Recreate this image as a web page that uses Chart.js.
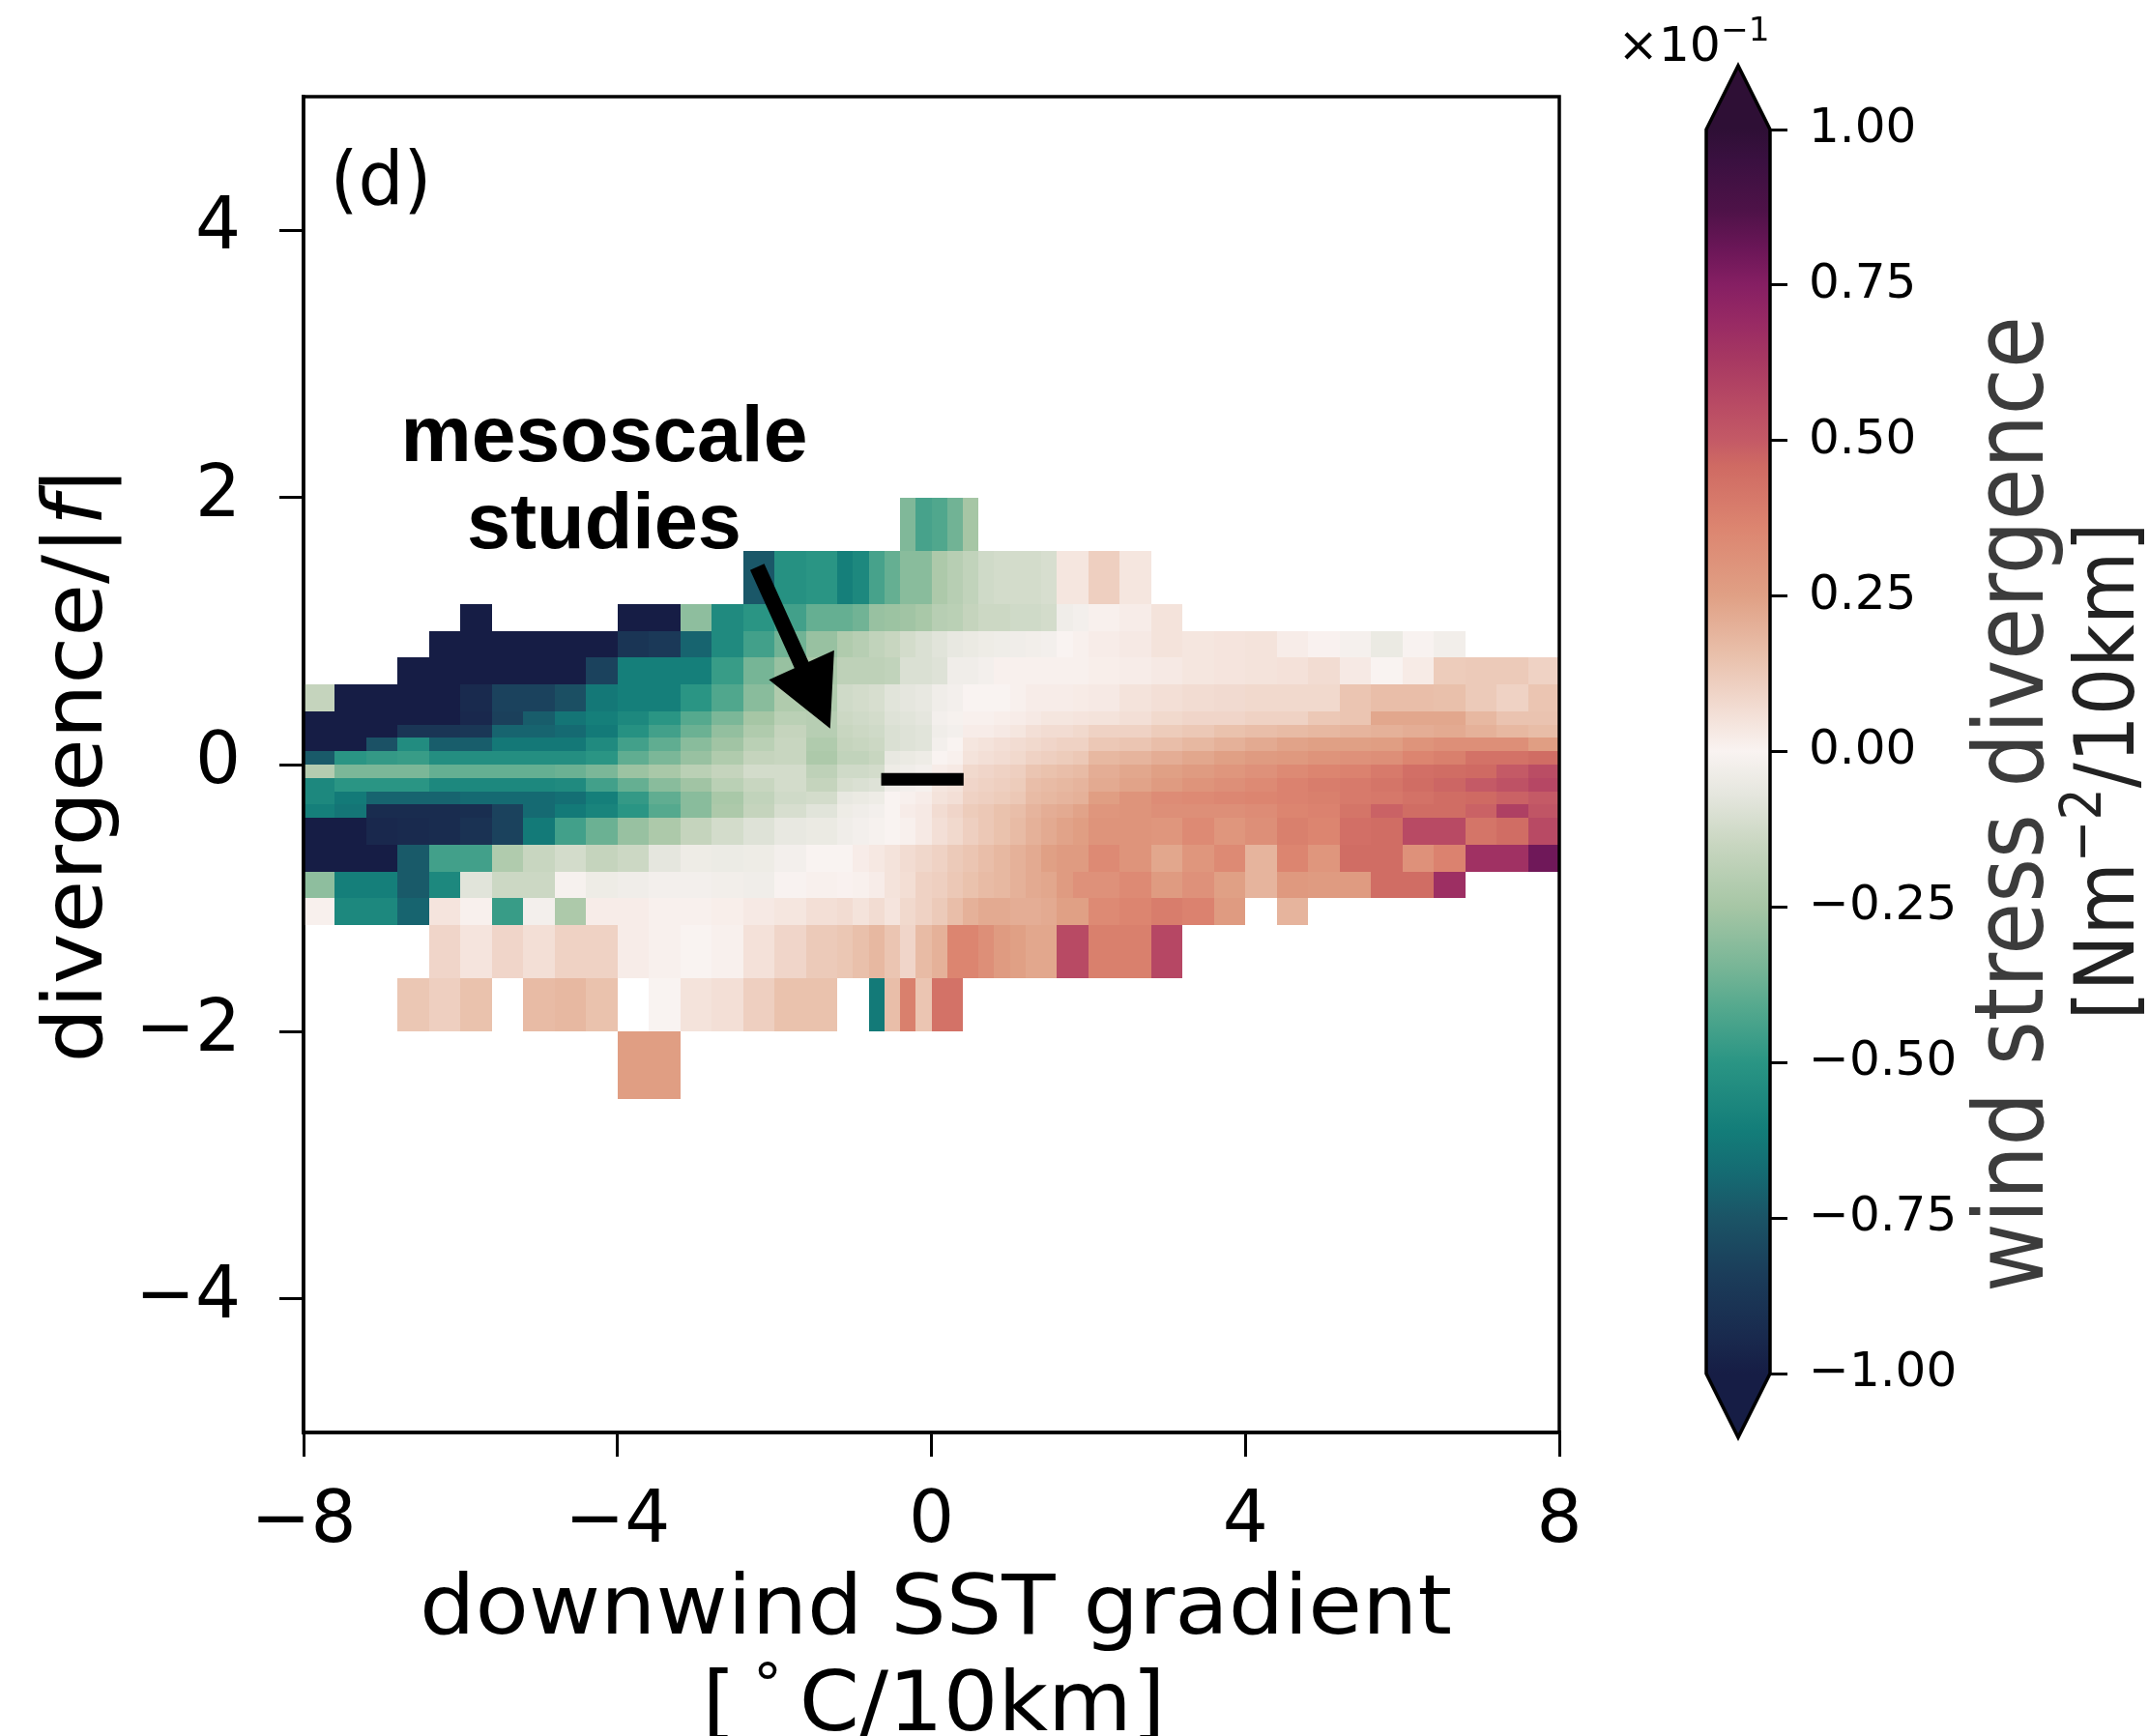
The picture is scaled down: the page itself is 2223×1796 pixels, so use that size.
<!DOCTYPE html>
<html>
<head>
<meta charset="utf-8">
<script src="https://cdn.jsdelivr.net/npm/chart.js@4.4.1/dist/chart.umd.min.js"></script>
<style>
  html, body { margin: 0; padding: 0; background: #fff; }
  #wrap { position: relative; width: 2223px; height: 1796px; }
  #wrap canvas { position: absolute; left: 0; top: 0; }
</style>
</head>
<body>
<div id="wrap">
  <canvas id="heat" width="2223" height="1796"></canvas>
  <canvas id="cbar" width="2223" height="1796"></canvas>
</div>
<script>
const _ = null;

// bin edges (downwind SST gradient, divergence/|f|)
const xEdges = [-8.0, -7.6, -7.2, -6.8, -6.4, -6.0, -5.6, -5.2, -4.8, -4.4, -4.0, -3.6, -3.2, -2.8, -2.4, -2.0, -1.6, -1.2,
  -1.0, -0.8, -0.6, -0.4, -0.2, 0.0, 0.2, 0.4, 0.6, 0.8, 1.0, 1.2, 1.4, 1.6, 1.8, 2.0,
  2.4, 2.8, 3.2, 3.6, 4.0, 4.4, 4.8, 5.2, 5.6, 6.0, 6.4, 6.8, 7.2, 7.6, 8.0];
const yEdges = [-2.5, -2.0, -1.6, -1.2, -1.0, -0.8, -0.6, -0.4, -0.3, -0.2, -0.1, 0.0, 0.1, 0.2, 0.3, 0.4, 0.6, 0.8, 1.0, 1.2, 1.6, 2.0];

// wind stress divergence (x10^-1), one array per row, bottom row first
const zRow00 = [_,_,_,_,_,_,_,_, _,_,0.26,0.26,_,_,_,_, _,_,_,_,_,_,_,_, _,_,_,_,_,_,_,_, _,_,_,_,_,_,_,_, _,_,_,_,_,_,_,_];
const zRow01 = [_,_,_,0.135,0.11,0.15,_,0.17, 0.18,0.15,_,0.0,0.05,0.06,0.11,0.15, 0.15,_,_,-0.62,0.16,0.38,0.14,0.43, 0.43,_,_,_,_,_,_,_, _,_,_,_,_,_,_,_, _,_,_,_,_,_,_,_];
const zRow02 = [_,_,_,_,0.09,0.045,0.09,0.06, 0.1,0.1,0.02,0.01,0.0,0.01,0.055,0.09, 0.125,0.135,0.155,0.18,0.14,0.09,0.17,0.2, 0.36,0.36,0.32,0.27,0.25,0.23,0.23,0.56, 0.56,0.38,0.38,0.57,_,_,_,_, _,_,_,_,_,_,_,_];
const zRow03 = [0.01,-0.56,-0.56,-0.7,0.045,0.01,-0.47,-0.02, -0.23,0.02,0.02,0.01,0.01,0.015,0.03,0.04, 0.06,0.07,0.05,0.07,0.045,0.08,0.1,0.125, 0.16,0.2,0.22,0.22,0.21,0.21,0.22,0.25, 0.25,0.34,0.36,0.39,0.37,0.27,_,0.19, _,_,_,_,_,_,_,_];
const zRow04 = [-0.3,-0.6,-0.6,-0.73,-0.56,-0.08,-0.14,-0.14, -0.01,-0.04,-0.03,-0.02,-0.02,-0.025,-0.03,-0.005, 0.01,0.005,0.01,0.02,0.05,0.065,0.1,0.11, 0.13,0.15,0.17,0.18,0.2,0.22,0.23,0.27, 0.31,0.31,0.34,0.27,0.31,0.25,0.19,0.28, 0.27,0.27,0.45,0.45,0.67,_,_,_];
const zRow05 = [-1,-1,-1,-0.73,-0.45,-0.45,-0.22,-0.15, -0.12,-0.16,-0.14,-0.07,-0.04,-0.045,-0.04,-0.02, 0.0,0.0,0.02,0.035,0.05,0.07,0.085,0.1, 0.125,0.14,0.16,0.18,0.2,0.22,0.25,0.27, 0.27,0.34,0.3,0.23,0.29,0.34,0.19,0.36, 0.29,0.45,0.45,0.31,0.37,0.66,0.66,0.8];
const zRow06 = [-1,-1,-0.95,-0.94,-0.93,-0.9,-0.82,-0.62, -0.45,-0.37,-0.28,-0.23,-0.16,-0.12,-0.09,-0.06, -0.05,-0.03,-0.02,-0.01,0.0,0.01,0.03,0.06, 0.08,0.11,0.13,0.15,0.17,0.2,0.22,0.24, 0.26,0.3,0.3,0.29,0.34,0.29,0.32,0.38, 0.36,0.44,0.45,0.56,0.56,0.42,0.45,0.56];
const zRow07 = [-0.6,-0.64,-0.93,-0.93,-0.93,-0.92,-0.82,-0.68, -0.62,-0.58,-0.5,-0.41,-0.31,-0.23,-0.16,-0.11, -0.08,-0.04,-0.03,-0.02,0.0,0.02,0.03,0.07, 0.09,0.12,0.13,0.15,0.16,0.19,0.21,0.22, 0.24,0.29,0.3,0.32,0.32,0.32,0.33,0.36, 0.37,0.42,0.48,0.45,0.45,0.48,0.6,0.52];
const zRow08 = [-0.56,-0.62,-0.7,-0.7,-0.7,-0.68,-0.68,-0.68, -0.66,-0.6,-0.48,-0.39,-0.31,-0.24,-0.17,-0.13, -0.12,-0.06,-0.05,-0.04,0.0,0.01,0.02,0.05, 0.06,0.1,0.11,0.12,0.13,0.17,0.18,0.19, 0.2,0.26,0.3,0.33,0.34,0.35,0.36,0.37, 0.38,0.4,0.41,0.43,0.45,0.46,0.48,0.5];
const zRow09 = [-0.56,-0.5,-0.5,-0.5,-0.56,-0.56,-0.56,-0.56, -0.55,-0.45,-0.38,-0.31,-0.26,-0.19,-0.15,-0.12, -0.16,-0.11,-0.1,-0.09,-0.03,-0.02,-0.01,0.04, 0.05,0.09,0.1,0.11,0.12,0.16,0.17,0.18, 0.19,0.22,0.24,0.27,0.3,0.32,0.34,0.37, 0.39,0.4,0.42,0.45,0.47,0.5,0.53,0.57];
const zRow10 = [-0.21,-0.34,-0.34,-0.34,-0.38,-0.38,-0.38,-0.38, -0.37,-0.34,-0.27,-0.24,-0.19,-0.16,-0.12,-0.12, -0.18,-0.13,-0.13,-0.12,-0.04,-0.03,-0.02,0.02, 0.03,0.08,0.09,0.1,0.11,0.14,0.15,0.16, 0.17,0.21,0.23,0.25,0.27,0.29,0.31,0.34, 0.36,0.37,0.4,0.44,0.45,0.46,0.5,0.55];
const zRow11 = [-0.73,-0.5,-0.48,-0.47,-0.53,-0.53,-0.53,-0.53, -0.53,-0.5,-0.39,-0.34,-0.28,-0.22,-0.16,-0.15, -0.23,-0.17,-0.17,-0.15,-0.06,-0.05,-0.04,0.0, 0.01,0.05,0.06,0.07,0.08,0.1,0.11,0.12, 0.13,0.18,0.19,0.21,0.23,0.25,0.27,0.28, 0.3,0.31,0.32,0.36,0.38,0.43,0.43,0.45];
const zRow12 = [-1,-1,-0.76,-0.54,-0.72,-0.72,-0.63,-0.63, -0.63,-0.55,-0.45,-0.39,-0.31,-0.26,-0.19,-0.15, -0.22,-0.16,-0.15,-0.14,-0.1,-0.09,-0.08,-0.02, 0.0,0.04,0.05,0.06,0.07,0.08,0.09,0.1, 0.1,0.13,0.14,0.16,0.18,0.2,0.22,0.24, 0.25,0.25,0.26,0.3,0.32,0.32,0.32,0.26];
const zRow13 = [-1,-1,-1,-0.88,-0.88,-0.87,-0.7,-0.7, -0.68,-0.62,-0.52,-0.45,-0.37,-0.29,-0.22,-0.16, -0.2,-0.15,-0.14,-0.13,-0.1,-0.09,-0.08,-0.03, -0.02,0.02,0.02,0.03,0.04,0.06,0.07,0.07, 0.08,0.1,0.1,0.12,0.13,0.15,0.16,0.17, 0.18,0.19,0.2,0.21,0.22,0.2,0.18,0.165];
const zRow14 = [-1,-1,-1,-1,-1,-0.95,-0.83,-0.72, -0.64,-0.6,-0.56,-0.5,-0.41,-0.34,-0.25,-0.19, -0.2,-0.14,-0.13,-0.12,-0.09,-0.08,-0.07,-0.02, -0.01,0.01,0.01,0.015,0.02,0.03,0.04,0.04, 0.045,0.05,0.06,0.08,0.09,0.09,0.1,0.1, 0.13,0.14,0.23,0.23,0.23,0.18,0.145,0.145];
const zRow15 = [-0.16,-1,-1,-1,-1,-0.94,-0.82,-0.82, -0.77,-0.63,-0.6,-0.6,-0.5,-0.42,-0.31,-0.22, -0.22,-0.13,-0.12,-0.11,-0.08,-0.07,-0.06,-0.03, -0.02,0.0,0.0,0.0,0.01,0.02,0.02,0.02, 0.025,0.03,0.05,0.06,0.07,0.075,0.08,0.08, 0.08,0.14,0.16,0.16,0.155,0.125,0.1,0.14];
const zRow16 = [_,_,_,-1,-1,-1,-1,-1, -1,-0.82,-0.6,-0.6,-0.6,-0.47,-0.35,-0.28, -0.24,-0.18,-0.18,-0.18,-0.17,-0.1,-0.1,-0.09, -0.03,-0.03,-0.02,0.01,0.01,0.01,0.01,0.01, 0.01,0.015,0.02,0.03,0.04,0.045,0.05,0.055, 0.07,0.03,0.0,0.025,0.12,0.125,0.125,0.1];
const zRow17 = [_,_,_,_,-1,-1,-1,-1, -1,-1,-0.88,-0.86,-0.7,-0.55,-0.45,-0.36, -0.28,-0.22,-0.2,-0.17,-0.15,-0.12,-0.1,-0.08, -0.06,-0.05,-0.04,-0.035,-0.03,-0.025,-0.02,0.0, 0.01,0.02,0.03,0.05,0.04,0.045,0.05,0.02, 0.005,-0.015,-0.05,-0.005,-0.025,_,_,_];
const zRow18 = [_,_,_,_,_,-1,_,_, _,_,-1,-1,-0.3,-0.55,-0.5,-0.45, -0.38,-0.38,-0.36,-0.28,-0.27,-0.26,-0.24,-0.2, -0.19,-0.16,-0.14,-0.14,-0.13,-0.13,-0.12,-0.03, -0.02,0.01,0.02,0.05,_,_,_,_, _,_,_,_,_,_,_,_];
const zRow19 = [_,_,_,_,_,_,_,_, _,_,_,_,_,_,-0.74,-0.52, -0.5,-0.6,-0.56,-0.44,-0.38,-0.31,-0.31,-0.23, -0.2,-0.17,-0.13,-0.12,-0.12,-0.12,-0.11,0.04, 0.04,0.11,0.04,_,_,_,_,_, _,_,_,_,_,_,_,_];
const zRow20 = [_,_,_,_,_,_,_,_, _,_,_,_,_,_,_,_, _,_,_,_,_,-0.33,-0.44,-0.42, -0.36,-0.25,_,_,_,_,_,_, _,_,_,_,_,_,_,_, _,_,_,_,_,_,_,_];
const zRows = [zRow00, zRow01, zRow02, zRow03, zRow04, zRow05, zRow06, zRow07, zRow08, zRow09, zRow10,
  zRow11, zRow12, zRow13, zRow14, zRow15, zRow16, zRow17, zRow18, zRow19, zRow20];

// axis ticks
const xTicks = [-8, -4, 0, 4, 8];
const yTicks = [-4, -2, 0, 2, 4];
const cbTicks = [-1, -0.75, -0.5, -0.25, 0, 0.25, 0.5, 0.75, 1];

// black bar and the arrow / label of the "mesoscale studies" note (data coordinates)
const dashX = [-0.64, 0.41];
const dashY = [-0.11, -0.11];
const arrowX = [-2.22, -1.29];
const arrowY = [1.48, 0.27];
const noteLines = ['mesoscale', 'studies'];
const noteX = -4.17;
const noteY = [2.27, 1.62];

// colour map (cmocean curl like)
const cmapVals = [-1, -0.94, -0.84, -0.75, -0.68, -0.61, -0.5, -0.41, -0.35, -0.25, -0.15, -0.07, 0, 0.07, 0.155, 0.25, 0.36, 0.46, 0.5, 0.56, 0.635, 0.69, 0.75, 0.81, 0.87, 0.95, 1];
const cmapHex = ['#161d45', '#192a4e', '#1b3d5a', '#1b5466', '#156a72', '#137d79', '#2a9584', '#55a98e', '#76b596', '#a6c6a5',
  '#c8d6c0', '#e5e6de', '#f9f3f1', '#f2dcd2', '#e9c0ab', '#e0a085', '#dc8570', '#cf6a63', '#c45a66', '#b84a64',
  '#a63762', '#982a64', '#861f63', '#6a1657', '#4e1248', '#3a1040', '#2e0f35'];

function hexRgb(h) {
  return [parseInt(h.slice(1, 3), 16), parseInt(h.slice(3, 5), 16), parseInt(h.slice(5, 7), 16)];
}
const cmapRgb = cmapHex.map(hexRgb);

function curl(v) {
  v = Math.max(-1, Math.min(1, v));
  let i = 0;
  while (i < cmapVals.length - 2 && v > cmapVals[i + 1]) i++;
  const t = (v - cmapVals[i]) / (cmapVals[i + 1] - cmapVals[i]);
  const a = cmapRgb[i], b = cmapRgb[i + 1];
  const c = [0, 1, 2].map(k => Math.round(a[k] + (b[k] - a[k]) * t));
  return 'rgb(' + c.join(',') + ')';
}

function minus(v) {
  return String(v).replace('-', '\u2212');
}

// draws one line of text made of pieces, centred on (x, y), squeezed to a width
function drawParts(ctx, parts, x, y, width, rotate) {
  ctx.save();
  ctx.translate(x, y);
  if (rotate) ctx.rotate(-Math.PI / 2);
  let total = 0;
  const w = parts.map(p => {
    ctx.font = p.font;
    const m = ctx.measureText(p.t).width;
    total += m;
    return m;
  });
  if (width) ctx.scale(width / total, 1);
  ctx.textAlign = 'left';
  ctx.textBaseline = 'alphabetic';
  let cx = -total / 2;
  parts.forEach((p, i) => {
    ctx.font = p.font;
    ctx.fillStyle = p.color || '#000';
    ctx.fillText(p.t, cx, -(p.rise || 0));
    cx += w[i];
  });
  ctx.restore();
}

const heatmapPlugin = {
  id: 'heatmap',
  beforeDatasetsDraw(chart) {
    const { ctx, chartArea, scales } = chart;
    const xs = scales.x, ys = scales.y;
    ctx.save();
    ctx.beginPath();
    ctx.rect(chartArea.left, chartArea.top, chartArea.right - chartArea.left, chartArea.bottom - chartArea.top);
    ctx.clip();
    zRows.forEach((row, r) => {
      const y0 = Math.round(ys.getPixelForValue(yEdges[r + 1]));
      const y1 = Math.round(ys.getPixelForValue(yEdges[r]));
      row.forEach((v, c) => {
        if (v === null) return;
        const x0 = Math.round(xs.getPixelForValue(xEdges[c]));
        const x1 = Math.round(xs.getPixelForValue(xEdges[c + 1]));
        ctx.fillStyle = curl(v);
        ctx.fillRect(x0, y0, x1 - x0, y1 - y0);
      });
    });
    ctx.restore();
  }
};

const framePlugin = {
  id: 'frame',
  afterDatasetsDraw(chart) {
    const { ctx, chartArea: a } = chart;
    ctx.save();
    ctx.strokeStyle = '#000';
    ctx.lineWidth = 3.5;
    ctx.strokeRect(a.left, a.top, a.right - a.left, a.bottom - a.top);
    ctx.restore();
  }
};

const notesPlugin = {
  id: 'notes',
  afterDraw(chart) {
    const { ctx, chartArea: a, scales } = chart;
    const xs = scales.x, ys = scales.y;
    const dv = '86px "DejaVu Sans"';

    // panel letter
    drawParts(ctx, [{ t: '(d)', font: '76px "DejaVu Sans"' }], a.left + 80, a.top + 111, 105);

    // axis titles
    drawParts(ctx, [{ t: 'downwind SST gradient', font: dv }], 968, 1690, 1068);
    drawParts(ctx, [
      { t: '[', font: dv }, { t: '\u2009', font: dv },
      { t: '\u00b0', font: '58px "DejaVu Sans"', rise: 28 }, { t: '\u2009', font: dv },
      { t: 'C/10km]', font: dv }
    ], 966, 1790, 479);
    drawParts(ctx, [
      { t: 'divergence/|', font: dv }, { t: 'f', font: 'italic ' + dv }, { t: '|', font: dv }
    ], 105, ys.getPixelForValue(0), 617, true);

    // note text
    const nx = xs.getPixelForValue(noteX);
    const noteW = [421, 284];
    noteLines.forEach((t, i) => {
      drawParts(ctx, [{ t, font: 'bold 81px "Liberation Sans"' }], nx, ys.getPixelForValue(noteY[i]), noteW[i]);
    });

    // arrow
    const x0 = xs.getPixelForValue(arrowX[0]), y0 = ys.getPixelForValue(arrowY[0]);
    const x1 = xs.getPixelForValue(arrowX[1]), y1 = ys.getPixelForValue(arrowY[1]);
    const L = Math.hypot(x1 - x0, y1 - y0);
    const ux = (x1 - x0) / L, uy = (y1 - y0) / L;
    const nxv = -uy, nyv = ux;
    const headL = 72, headW = 37, shaftW = 8;
    const bx = x1 - ux * headL, by = y1 - uy * headL;
    ctx.save();
    ctx.fillStyle = '#000';
    ctx.beginPath();
    ctx.moveTo(x0 + nxv * shaftW, y0 + nyv * shaftW);
    ctx.lineTo(bx + nxv * shaftW, by + nyv * shaftW);
    ctx.lineTo(bx + nxv * headW, by + nyv * headW);
    ctx.lineTo(x1, y1);
    ctx.lineTo(bx - nxv * headW, by - nyv * headW);
    ctx.lineTo(bx - nxv * shaftW, by - nyv * shaftW);
    ctx.lineTo(x0 - nxv * shaftW, y0 - nyv * shaftW);
    ctx.closePath();
    ctx.fill();
    ctx.restore();
  }
};

const tickFont = { family: 'DejaVu Sans', size: 74 };

new Chart(document.getElementById('heat'), {
  type: 'scatter',
  data: {
    datasets: [{
      label: 'bar',
      data: dashX.map((x, i) => ({ x: x, y: dashY[i] })),
      showLine: true,
      borderColor: '#000',
      borderWidth: 13,
      borderCapStyle: 'butt',
      pointRadius: 0
    }]
  },
  options: {
    responsive: false,
    animation: false,
    layout: { padding: { left: 0, right: 610, top: 100, bottom: 0 } },
    plugins: { legend: { display: false }, tooltip: { enabled: false } },
    scales: {
      x: {
        type: 'linear', min: -8, max: 8,
        afterBuildTicks: s => { s.ticks = xTicks.map(v => ({ value: v })); },
        afterFit: s => { s.height = 314; },
        grid: { drawOnChartArea: false, drawTicks: true, tickLength: 25, tickWidth: 3, lineWidth: 3, tickColor: '#000' },
        border: { display: true, color: '#000', width: 3.5 },
        ticks: { font: tickFont, color: '#000', padding: 24, autoSkip: false, maxRotation: 0, callback: v => minus(v) }
      },
      y: {
        type: 'linear', min: -5, max: 5,
        afterBuildTicks: s => { s.ticks = yTicks.map(v => ({ value: v })); },
        afterFit: s => { s.width = 314; },
        grid: { drawOnChartArea: false, drawTicks: true, tickLength: 25, tickWidth: 3, lineWidth: 3, tickColor: '#000' },
        border: { display: true, color: '#000', width: 3.5 },
        ticks: { font: tickFont, color: '#000', padding: 40, autoSkip: false, callback: v => minus(v) }
      }
    }
  },
  plugins: [heatmapPlugin, framePlugin, notesPlugin]
});

// colour bar
const cbarPlugin = {
  id: 'cbarOutline',
  afterDraw(chart) {
    const { ctx, chartArea: a, scales } = chart;
    const ys = scales.y;
    const top = ys.getPixelForValue(1), bot = ys.getPixelForValue(-1);
    const mid = (a.left + a.right) / 2, ext = 66;
    ctx.save();
    ctx.fillStyle = cmapHex[cmapHex.length - 1];
    ctx.beginPath();
    ctx.moveTo(a.left, top); ctx.lineTo(mid, top - ext); ctx.lineTo(a.right, top); ctx.closePath();
    ctx.fill();
    ctx.fillStyle = cmapHex[0];
    ctx.beginPath();
    ctx.moveTo(a.left, bot); ctx.lineTo(mid, bot + ext); ctx.lineTo(a.right, bot); ctx.closePath();
    ctx.fill();
    ctx.strokeStyle = '#000';
    ctx.lineWidth = 3.5;
    ctx.lineJoin = 'miter';
    ctx.beginPath();
    ctx.moveTo(a.left, top);
    ctx.lineTo(mid, top - ext);
    ctx.lineTo(a.right, top);
    ctx.lineTo(a.right, bot);
    ctx.lineTo(mid, bot + ext);
    ctx.lineTo(a.left, bot);
    ctx.closePath();
    ctx.stroke();
    ctx.restore();

    // offset text and label
    drawParts(ctx, [
      { t: '\u00d710', font: '50px "DejaVu Sans"' },
      { t: '\u22121', font: '34px "DejaVu Sans"', rise: 21 }
    ], 1752, 63, 157);
    drawParts(ctx, [{ t: 'wind stress divergence', font: '100px "DejaVu Sans"', color: '#3c3c3c' }], 2113, 832, 1010, true);
    drawParts(ctx, [
      { t: '[Nm', font: '86px "DejaVu Sans"', color: '#222' },
      { t: '\u22122', font: '58px "DejaVu Sans"', rise: 34, color: '#222' },
      { t: '/10km]', font: '86px "DejaVu Sans"', color: '#222' }
    ], 2207, 798, 515, true);
  }
};

new Chart(document.getElementById('cbar'), {
  type: 'bar',
  data: {
    labels: [''],
    datasets: [{
      data: [[-1, 1]],
      barPercentage: 1,
      categoryPercentage: 1,
      borderWidth: 0,
      backgroundColor: c => {
        const a = c.chart.chartArea;
        if (!a) return null;
        const g = c.chart.ctx.createLinearGradient(0, a.bottom, 0, a.top);
        cmapVals.forEach((v, i) => g.addColorStop((v + 1) / 2, cmapHex[i]));
        return g;
      }
    }]
  },
  options: {
    responsive: false,
    animation: false,
    layout: { padding: { left: 1765, right: 0, top: 134, bottom: 375 } },
    plugins: { legend: { display: false }, tooltip: { enabled: false } },
    scales: {
      x: { display: false },
      y: {
        position: 'right', min: -1, max: 1,
        afterBuildTicks: s => { s.ticks = cbTicks.map(v => ({ value: v })); },
        afterFit: s => { s.width = 392; },
        grid: { drawOnChartArea: false, drawTicks: true, tickLength: 18, tickWidth: 3, lineWidth: 3, tickColor: '#000' },
        border: { display: false },
        ticks: {
          font: { family: 'DejaVu Sans', size: 50 }, color: '#000', padding: 22, autoSkip: false,
          callback: v => (v < 0 ? '\u2212' : '') + Math.abs(v).toFixed(2)
        }
      }
    }
  },
  plugins: [cbarPlugin]
});
</script>
</body>
</html>
